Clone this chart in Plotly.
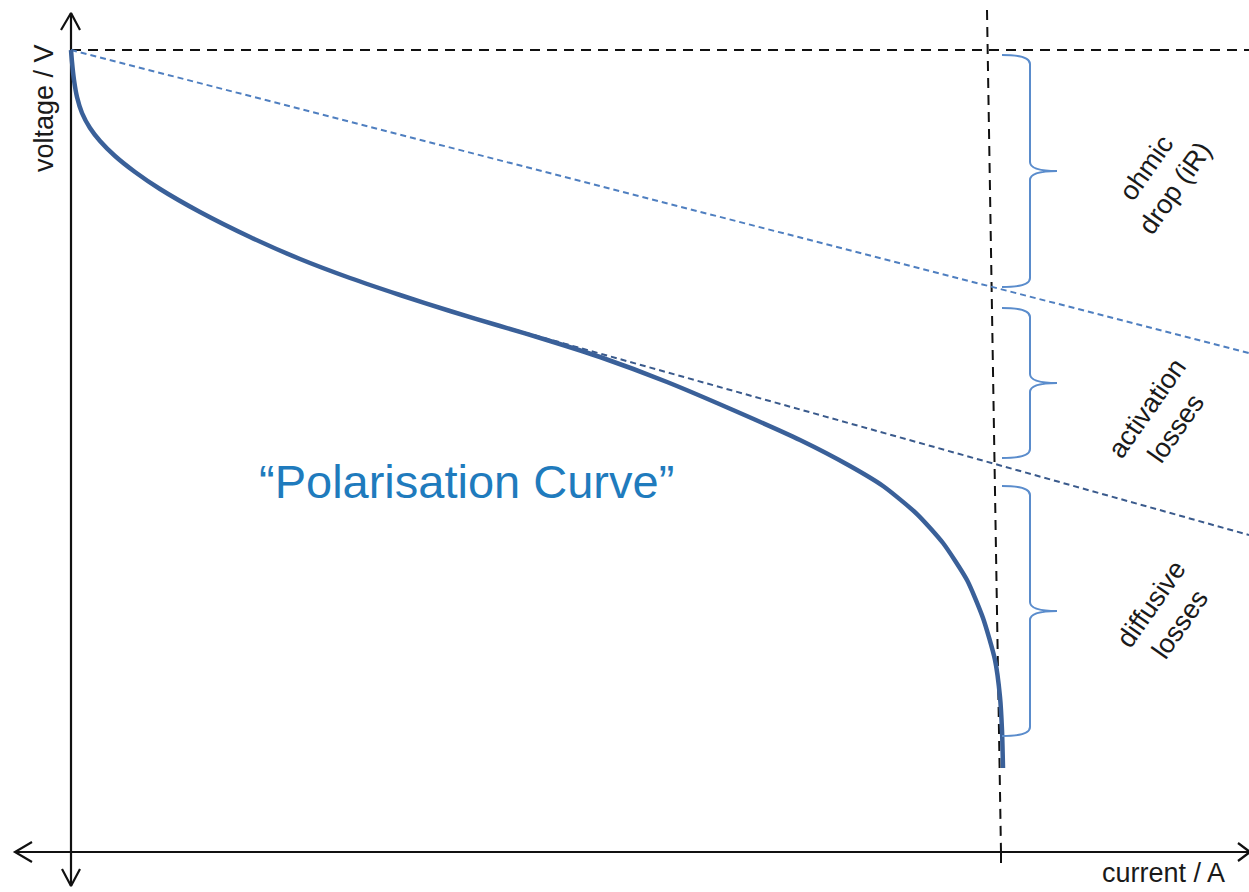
import plotly.graph_objects as go

# ---- data (diagram units: 0..1249 horizontally, 0..892 vertically, y grows downward) ----
curve_x = [71, 72, 74, 77, 82, 90, 100, 115, 135, 160, 200, 250, 300, 350, 400, 450, 500,
           550, 600, 667, 733, 800, 850, 883, 917, 943, 967, 983, 995, 1000, 1002, 1003]
curve_y = [50, 62, 80, 97, 113, 128, 141, 156, 172, 189, 212, 237, 259, 278, 295, 311, 326,
           341, 357, 382, 410, 440, 466, 486, 514, 543, 580, 618, 660, 697, 730, 768]

ohmic_x = [71, 1249]
ohmic_y = [50, 353]
activation_x = [505, 1249]
activation_y = [327, 535]
ocv_x = [71, 1249]
ocv_y = [50, 50]
limit_x = [987, 1001]
limit_y = [10, 852]

yaxis_x = [71, 71]
yaxis_y = [13, 886]
xaxis_x = [15, 1249]
xaxis_y = [852, 852]

bracket_names = ["ohmic<br>drop (iR)", "activation<br>losses", "diffusive<br>losses"]
bracket_top = [55, 308, 486]
bracket_bottom = [287, 458, 736]
label_x = [1160, 1161, 1165]
label_y = [178, 418, 614]

curve_label = "“Polarisation Curve”"
x_title = "current / A"
y_title = "voltage / V"

FONT = "Liberation Sans, Arial, sans-serif"

fig = go.Figure()

# axes (as lines)
fig.add_trace(go.Scatter(x=yaxis_x, y=yaxis_y, mode="lines",
                         line=dict(color="#111111", width=2.2), hoverinfo="skip"))
fig.add_trace(go.Scatter(x=xaxis_x, y=xaxis_y, mode="lines",
                         line=dict(color="#111111", width=2.2), hoverinfo="skip"))
# arrow heads
arrows = [
    ([61, 71, 80], [30, 13, 30]),
    ([62, 71, 80], [869, 886, 869]),
    ([32, 15, 32], [842, 852, 862]),
    ([1238, 1250, 1238], [843, 852, 861]),
]
for ax_, ay_ in arrows:
    fig.add_trace(go.Scatter(x=ax_, y=ay_, mode="lines",
                             line=dict(color="#111111", width=2.2), hoverinfo="skip"))
# tick at limiting current
fig.add_trace(go.Scatter(x=[1001, 1001], y=[852, 863], mode="lines",
                         line=dict(color="#111111", width=2), hoverinfo="skip"))

# black dashed reference lines
fig.add_trace(go.Scatter(x=ocv_x, y=ocv_y, mode="lines",
                         line=dict(color="#111111", width=2, dash="10px,7px"), hoverinfo="skip"))
fig.add_trace(go.Scatter(x=limit_x, y=limit_y, mode="lines",
                         line=dict(color="#111111", width=2, dash="10px,7px"), hoverinfo="skip"))

# blue dashed lines
fig.add_trace(go.Scatter(x=ohmic_x, y=ohmic_y, mode="lines",
                         line=dict(color="#4f7fc0", width=2, dash="6px,4px"), hoverinfo="skip"))
fig.add_trace(go.Scatter(x=activation_x, y=activation_y, mode="lines",
                         line=dict(color="#3a5a8c", width=2, dash="6px,4px"), hoverinfo="skip"))

# polarisation curve
fig.add_trace(go.Scatter(x=curve_x, y=curve_y, mode="lines",
                         line=dict(color="#3a6099", width=4.5, shape="spline", smoothing=0.6),
                         hoverinfo="skip"))

# curly brackets
x0, x1, xtip, r = 1002, 1030, 1057, 9
shapes = []
for top, bot in zip(bracket_top, bracket_bottom):
    mid = (top + bot) / 2
    path = (f"M {x0},{top} Q {x1},{top} {x1},{top + r} "
            f"L {x1},{mid - r} Q {x1},{mid} {xtip},{mid} "
            f"Q {x1},{mid} {x1},{mid + r} "
            f"L {x1},{bot - r} Q {x1},{bot} {x0},{bot}")
    shapes.append(dict(type="path", path=path, xref="x", yref="y",
                       line=dict(color="#5a8ccc", width=2)))

annotations = []
for name, lx, ly in zip(bracket_names, label_x, label_y):
    annotations.append(dict(x=lx, y=ly, xref="x", yref="y", text=name, showarrow=False,
                            textangle=-55, font=dict(family=FONT, size=27, color="#1a1a1a"),
                            align="center"))
annotations.append(dict(x=466, y=481, xref="x", yref="y", text=curve_label, showarrow=False,
                        font=dict(family=FONT, size=47, color="#1f7bbd")))
annotations.append(dict(x=1163, y=873, xref="x", yref="y", text=x_title, showarrow=False,
                        font=dict(family=FONT, size=27, color="#1a1a1a"), borderpad=0))
annotations.append(dict(x=44, y=108, xref="x", yref="y", text=y_title, showarrow=False,
                        textangle=-90, font=dict(family=FONT, size=27, color="#1a1a1a")))

fig.update_layout(
    width=1249, height=892,
    margin=dict(l=0, r=0, t=0, b=0),
    paper_bgcolor="white", plot_bgcolor="white",
    showlegend=False,
    xaxis=dict(range=[0, 1249], visible=False, fixedrange=True),
    yaxis=dict(range=[892, 0], visible=False, fixedrange=True),
    shapes=shapes,
    annotations=annotations,
)

fig.write_html("out.html", config={"displayModeBar": False},
               post_script="document.body.style.margin='0';document.body.style.overflow='hidden';")
